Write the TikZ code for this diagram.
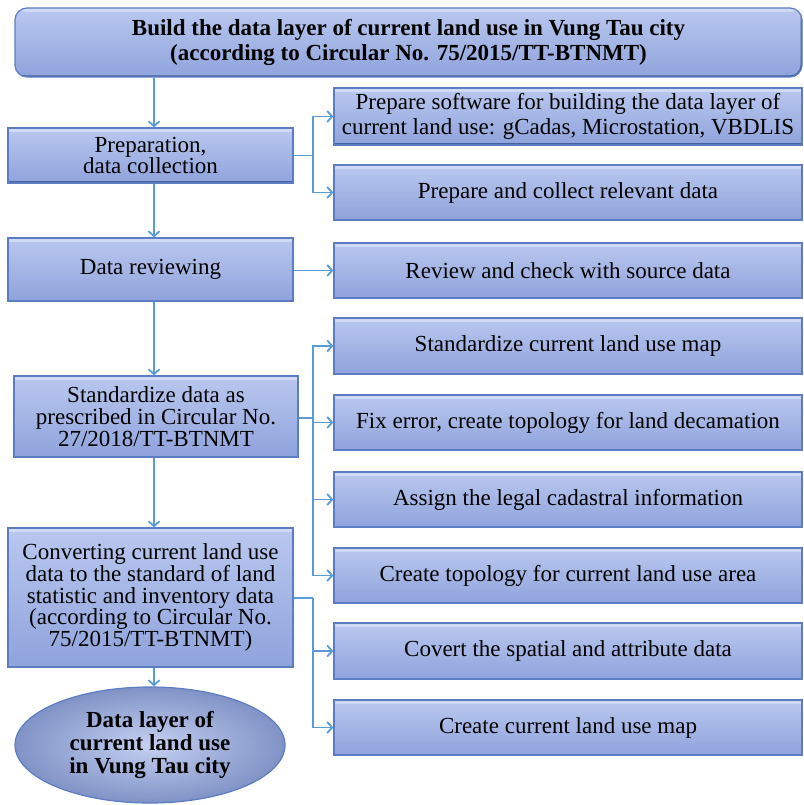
\documentclass[tikz,border=0pt]{standalone}
\usepackage{fontspec}
\setmainfont{Liberation Serif}
\usetikzlibrary{arrows.meta,shapes.geometric,calc}
\definecolor{boxtop}{RGB}{186,200,239}
\definecolor{boxbot}{RGB}{143,163,220}
\definecolor{boxline}{RGB}{92,124,196}
\definecolor{boxdark}{RGB}{70,96,160}
\definecolor{arrowblue}{RGB}{91,155,213}
\tikzset{
  box/.style={draw=boxline, line width=1.2pt, top color=boxtop, bottom color=boxbot,
    inner sep=0pt, align=center, text=black,
    font=\fontsize{23}{25}\selectfont,
    path picture={
      \fill[white, opacity=0.35] (path picture bounding box.north west) rectangle ([yshift=-4pt]path picture bounding box.north east);
      \draw[line width=3pt, boxdark] (path picture bounding box.south west) -- (path picture bounding box.south east) -- (path picture bounding box.north east);
    }},
  lbox/.style={box, minimum width=285pt, font=\fontsize{23}{21.7}\selectfont},
  rbox/.style={box, minimum width=468pt, minimum height=55pt},
  arr/.style={draw=arrowblue, line width=1.8pt, -{Straight Barb[length=5pt,width=11pt]}},
  ln/.style={draw=arrowblue, line width=1.8pt},
}
\begin{document}
\begin{tikzpicture}[x=1pt,y=-1pt]
\useasboundingbox (0,0) rectangle (803,805);
% top
\node[box, rounded corners=12pt, minimum width=787pt, minimum height=69pt, font=\bfseries\fontsize{23}{25}\selectfont] (top) at (408.5,42.5)
  {Build the data layer of current land use in Vung Tau city\\(according to Circular No. 75/2015/TT-BTNMT)};
% left column
\node[lbox, minimum height=55pt] (prep) at (150.5,155.5) {Preparation,\\data collection};
\node[lbox, minimum height=63pt] (rev) at (150.5,269.5) {Data reviewing};
\node[lbox, minimum height=81pt, minimum width=284pt] (std) at (156,416.5) {Standardize data as\\prescribed in Circular No.\\27/2018/TT-BTNMT};
\node[lbox, minimum height=139pt] (conv) at (150.5,597.5) {Converting current land use\\data to the standard of land\\statistic and inventory data\\(according to Circular No.\\75/2015/TT-BTNMT)};
\node[ellipse, draw=boxline, line width=1.2pt, inner color=boxtop!85!white, outer color=boxbot!90!black,
  minimum width=270pt, minimum height=116pt, inner sep=0pt, align=center,
  font=\bfseries\fontsize{23}{23}\selectfont] (out) at (150,745)
  {Data layer of\\current land use\\in Vung Tau city};
% right column
\node[rbox, minimum height=57pt] (sw) at (568,116.5) {Prepare software for building the data layer of\\current land use: gCadas, Microstation, VBDLIS};
\node[rbox] (col) at (568,192.5) {Prepare and collect relevant data};
\node[rbox] (chk) at (568,270.5) {Review and check with source data};
\node[rbox, minimum height=56pt] (smap) at (568,346) {Standardize current land use map};
\node[rbox] (fix) at (568,422.5) {Fix error, create topology for land decamation};
\node[rbox] (asg) at (568,499.5) {Assign the legal cadastral information};
\node[rbox] (topo) at (568,575.5) {Create topology for current land use area};
\node[rbox, minimum height=56pt] (cov) at (568,651) {Covert the spatial and attribute data};
\node[rbox] (map) at (568,727.5) {Create current land use map};
% junction points
\coordinate (j1) at (313,155.5);
\coordinate (j3) at (313,418);
\coordinate (j4) at (313,598);
% main vertical flow
\draw[arr] ([xshift=3.5pt]prep.north |- top.south) -- ([xshift=3.5pt]prep.north);
\draw[arr] ([xshift=3.5pt]prep.south) -- ([xshift=3.5pt]rev.north);
\draw[arr] ([xshift=3.5pt]rev.south) -- ([xshift=3.5pt]rev.south |- std.north);
\draw[arr] ([xshift=3.5pt]rev.south |- std.south) -- ([xshift=3.5pt]conv.north);
\draw[arr] ([xshift=3.5pt]conv.south) -- ([xshift=3.5pt]conv.south |- out.north);
% branches
\draw[ln] (prep.east) -- (j1);
\draw[arr] (j1) |- (sw.west);
\draw[arr] (j1) |- (col.west);
\draw[arr] (rev.east |- chk.west) -- (chk.west);
\draw[ln] (std.east |- j3) -- (j3);
\draw[arr] (j3) |- (smap.west);
\draw[arr] (j3) |- (fix.west);
\draw[arr] (j3) |- (asg.west);
\draw[arr] (j3) |- (topo.west);
\draw[ln] (conv.east |- j4) -- (j4);
\draw[arr] (j4) |- (cov.west);
\draw[arr] (j4) |- (map.west);
\end{tikzpicture}
\end{document}
